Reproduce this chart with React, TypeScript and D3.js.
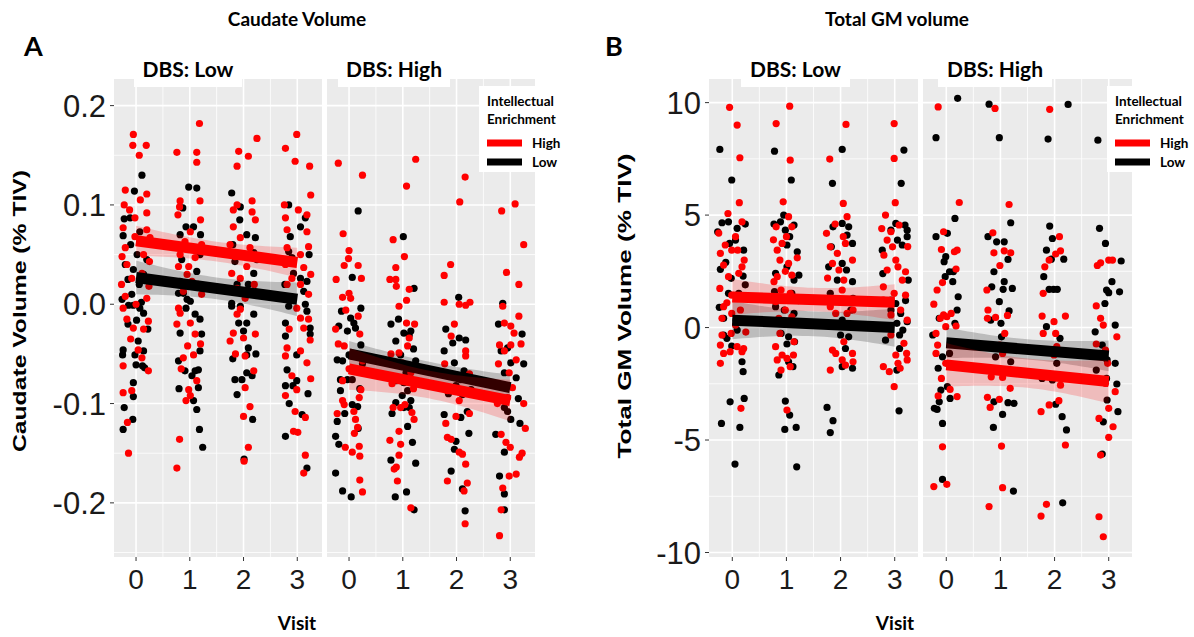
import React from 'react';
import * as d3 from 'd3';

type Pt = [number, number];

const visits = [0, 1, 2, 3];
const caudateTicks = [-0.2, -0.1, 0, 0.1, 0.2];
const caudateTickLabels = ['-0.2', '-0.1', '0.0', '0.1', '0.2'];
const caudateMinor = [-0.25, -0.15, -0.05, 0.05, 0.15];
const gmTicks = [-10, -5, 0, 5, 10];
const gmTickLabels = ['-10', '-5', '0', '5', '10'];
const gmMinor = [-7.5, -2.5, 2.5, 7.5];
const xMinor = [0.5, 1.5, 2.5];
const dbsLevels = ['Low', 'High'];
const ieLevels = ['High', 'Low'];

// ---- Caudate volume, DBS Low ----
const caudateLowRed: Pt[] = [
  [-0.05,0.171],[-0.06,0.160],[0.19,0.160],[0.06,0.150],[-0.2,0.115],[0.2,0.111],[-0.22,0.100],[0.2,0.092],[-0.02,0.087],[-0.24,0.077],[-0.2,0.057],[0.14,0.050],[0.26,0.067],[-0.17,0.040],[0.25,0.043],[-0.27,0.020],[-0.08,0.026],[0.11,0.031],[-0.2,0.008],[0.2,0.006],
  [-0.12,0.095],[0.08,0.105],[-0.02,0.068],[0.2,0.075],[-0.26,0.048],[0.24,0.018],[0.0,0.0],[-0.1,-0.035],
  [-0.24,-0.004],[-0.17,-0.015],[-0.05,-0.024],[0.14,-0.025],[0.23,-0.017],[0.04,-0.046],[0.11,-0.054],[-0.24,-0.062],[0.23,-0.067],[-0.24,-0.089],[-0.08,-0.087],[-0.16,-0.119],[-0.14,-0.150],
  [0.76,0.153],[1.18,0.182],[1.13,0.153],[1.13,0.143],[0.82,0.104],[1.19,0.104],[0.81,0.098],[1.01,0.073],[1.22,0.060],[0.82,0.050],[0.79,0.038],[0.98,0.038],[1.04,0.023],[1.22,0.010],[0.91,0.063],[1.1,0.047],[0.88,0.013],
  [0.78,0.090],[1.2,0.085],[0.95,0.030],[1.16,0.020],[0.84,-0.065],[1.2,-0.040],
  [0.79,-0.004],[0.82,-0.009],[0.76,-0.020],[1.01,-0.019],[1.1,-0.030],[0.96,-0.042],[1.07,-0.051],[0.88,-0.054],[1.13,-0.077],[0.98,-0.086],[1.01,-0.092],[0.93,-0.097],[0.81,-0.136],[0.76,-0.165],
  [1.91,0.154],[2.09,0.149],[2.25,0.167],[1.88,0.139],[1.88,0.100],[2.16,0.104],[2.16,0.093],[1.81,0.095],[1.81,0.078],[1.94,0.067],[2.12,0.057],[1.84,0.048],[2.0,0.050],[2.06,0.038],[1.78,0.031],[1.94,0.026],[1.88,0.016],[2.03,0.006],
  [2.22,0.085],[1.75,0.060],[2.2,0.020],[1.85,-0.050],[2.22,-0.030],
  [1.88,-0.010],[1.81,-0.029],[1.75,-0.037],[2.0,-0.034],[2.03,-0.052],[2.19,-0.067],[2.03,-0.084],[2.12,-0.103],[2.0,-0.113],[2.09,-0.144],[2.01,-0.158],[1.94,-0.005],
  [2.78,0.157],[2.99,0.171],[2.96,0.144],[3.23,0.139],[3.02,0.095],[3.18,0.090],[2.78,0.087],[2.81,0.075],[3.18,0.073],[2.81,0.057],[3.21,0.058],[3.06,0.050],[2.78,0.040],[3.12,0.037],[2.9,0.026],[2.81,0.020],[3.06,0.020],[3.21,0.010],[2.87,0.006],
  [3.25,0.110],[2.76,0.100],[3.25,0.030],[2.85,-0.025],[3.25,-0.075],
  [3.06,-0.014],[3.21,-0.015],[3.24,-0.036],[2.81,-0.044],[3.06,-0.047],[2.78,-0.052],[3.18,-0.059],[2.9,-0.072],[2.99,-0.086],[2.78,-0.092],[2.96,-0.108],[3.15,-0.114],[2.93,-0.128],[3.01,-0.129],[3.15,-0.152],[3.12,-0.170],[2.99,-0.004],[3.12,-0.024],
];
const caudateLowBlack: Pt[] = [
  [0.11,0.130],[-0.03,0.114],[-0.22,0.086],[-0.11,0.087],[-0.24,0.069],[0.07,0.073],[0.12,0.063],[-0.1,0.060],[-0.2,0.040],[-0.05,0.035],[0.14,0.030],[0.06,0.020],[-0.08,0.010],[0.1,0.002],
  [0.2,0.045],[-0.15,0.025],[0.02,0.050],[-0.26,0.005],[0.22,-0.025],[-0.15,-0.020],
  [-0.14,-0.001],[-0.05,-0.001],[0.07,-0.004],[0.14,-0.009],[0.01,-0.016],[0.04,-0.037],[0.14,-0.047],[-0.24,-0.046],[-0.25,-0.051],[-0.02,-0.051],[0.0,-0.061],[0.12,-0.062],[0.16,-0.064],[-0.05,-0.079],[-0.05,-0.093],[-0.22,-0.104],[-0.06,-0.116],[-0.24,-0.126],
  [0.98,0.118],[1.13,0.117],[0.87,0.097],[1.07,0.078],[0.93,0.078],[0.82,0.070],[1.01,0.057],[1.19,0.050],[1.13,0.033],[0.82,0.023],[0.79,0.011],[0.88,0.011],[1.01,0.003],
  [0.85,0.045],[1.2,0.070],[0.95,0.005],[1.22,-0.030],[0.8,-0.085],
  [0.93,-0.004],[1.1,-0.010],[1.19,-0.015],[0.82,-0.029],[1.19,-0.047],[0.79,-0.057],[0.91,-0.067],[1.1,-0.067],[1.04,-0.072],[1.16,-0.066],[1.16,-0.084],[1.07,-0.097],[1.13,-0.106],[1.18,-0.126],[1.24,-0.144],
  [1.78,0.112],[1.94,0.098],[1.93,0.085],[2.06,0.070],[2.22,0.067],[2.19,0.052],[1.84,0.043],[2.19,0.031],[2.09,0.020],[1.78,0.001],
  [1.8,0.060],[2.25,0.045],[1.88,0.020],[2.23,-0.050],[1.8,-0.055],
  [1.78,-0.002],[1.94,-0.002],[1.91,-0.019],[2.06,-0.019],[2.19,-0.010],[2.0,-0.027],[2.09,-0.044],[2.06,-0.051],[2.06,-0.069],[2.16,-0.072],[1.84,-0.076],[1.97,-0.076],[1.88,-0.091],[2.17,-0.116],[2.01,-0.156],
  [2.84,0.100],[3.15,0.087],[3.06,0.078],[2.87,0.068],[2.84,0.053],[2.9,0.047],[2.93,0.031],[3.06,0.026],[3.18,0.023],[3.12,0.013],
  [3.22,0.050],[2.77,0.020],[3.2,-0.090],[2.85,-0.100],
  [2.84,-0.002],[3.15,0.0],[3.18,-0.007],[2.78,-0.019],[2.78,-0.032],[3.24,-0.024],[3.24,-0.030],[2.99,-0.051],[2.81,-0.066],[2.99,-0.077],[2.78,-0.082],[2.92,-0.082],[3.09,-0.111],[2.78,-0.133],[3.18,-0.165],
];

// ---- Caudate volume, DBS High ----
const caudateHighRed: Pt[] = [
  [-0.2,0.142],[0.25,0.130],[-0.11,0.071],[0.0,0.054],[-0.01,0.046],[-0.09,0.039],[0.17,0.039],[-0.24,0.025],[0.23,0.026],[0.0,0.011],[-0.12,0.007],[0.03,0.006],
  [-0.2,-0.040],[0.0,-0.065],[0.2,-0.030],[-0.22,-0.110],[0.1,-0.130],
  [-0.25,-0.025],[-0.09,-0.042],[0.17,-0.012],[0.25,-0.057],[0.25,-0.069],[-0.12,-0.077],[-0.12,-0.097],[-0.09,-0.101],[0.22,-0.086],[0.19,-0.094],[0.09,-0.108],[0.12,-0.116],[0.16,-0.124],[-0.07,-0.144],[0.06,-0.149],[0.19,-0.143],[0.2,-0.153],[0.2,-0.177],[0.25,-0.189],[-0.06,-0.006],
  [1.24,0.146],[1.07,0.119],[0.82,0.065],[1.03,0.048],[0.87,0.037],[0.76,0.025],[0.87,0.025],[0.88,0.018],[1.12,0.015],[1.07,0.004],
  [0.8,-0.080],[1.2,-0.085],[0.78,-0.050],[1.22,-0.020],
  [0.93,-0.002],[1.07,-0.019],[1.12,-0.034],[0.93,-0.049],[1.09,-0.042],[0.99,-0.059],[1.15,-0.069],[0.82,-0.104],[0.96,-0.104],[1.04,-0.101],[1.17,-0.109],[1.21,-0.116],[0.93,-0.128],[0.76,-0.137],[0.96,-0.141],[0.93,-0.152],[0.88,-0.164],[0.84,-0.166],[0.9,-0.178],[1.15,-0.205],
  [2.16,0.128],[2.06,0.103],[1.89,0.040],[1.77,0.029],[1.77,0.002],[2.25,0.002],
  [1.78,-0.060],[2.24,-0.110],[1.8,-0.120],[2.24,-0.070],
  [2.05,0.000],[2.17,-0.001],[1.96,-0.020],[1.9,-0.032],[2.17,-0.047],[2.17,-0.052],[1.83,-0.087],[2.05,-0.097],[1.99,-0.113],[1.83,-0.134],[1.9,-0.136],[2.05,-0.149],[2.11,-0.151],[2.17,-0.161],[2.2,-0.180],[1.83,-0.178],[2.14,-0.188],[2.16,-0.221],
  [2.84,0.094],[3.09,0.101],[2.93,0.032],[3.16,0.020],[3.25,0.060],
  [2.78,-0.060],[3.2,-0.040],[2.76,-0.100],
  [2.86,-0.002],[2.89,-0.019],[3.01,-0.022],[3.07,-0.029],[3.01,-0.041],[2.8,-0.041],[2.89,-0.047],[3.11,-0.056],[2.98,-0.069],[3.04,-0.084],[2.95,-0.094],[2.83,-0.131],[2.92,-0.139],[3.0,-0.144],[3.17,-0.154],[3.11,-0.171],[2.98,-0.173],[2.86,-0.185],[2.83,-0.207],[2.8,-0.233],[3.16,-0.012],[3.25,-0.100],[3.22,-0.150],[3.28,-0.125],
];
const caudateHighBlack: Pt[] = [
  [0.17,0.094],[0.06,0.027],[-0.14,-0.007],[0.03,-0.014],[0.22,-0.004],[-0.19,-0.022],[0.09,-0.019],[0.12,-0.024],[-0.03,-0.027],[-0.22,-0.056],[-0.12,-0.057],[0.0,-0.051],[0.22,-0.041],[0.06,-0.052],[-0.16,-0.076],[-0.03,-0.076],[0.06,-0.076],[-0.16,-0.087],[0.06,-0.101],[0.16,-0.103],[-0.22,-0.118],[0.17,-0.125],[-0.25,-0.133],[-0.19,-0.141],[-0.25,-0.170],[-0.12,-0.188],[0.04,-0.194],
  [0.25,-0.060],[-0.08,-0.110],[0.2,-0.085],
  [1.01,0.068],[1.21,0.016],[0.78,-0.020],[0.87,-0.037],[1.02,-0.029],[1.12,-0.031],[1.15,-0.027],[0.96,-0.051],[1.06,-0.064],[1.06,-0.069],[1.24,-0.057],[0.87,-0.077],[1.02,-0.079],[1.09,-0.087],[0.99,-0.092],[1.15,-0.097],[1.02,-0.104],[1.12,-0.104],[0.87,-0.099],[1.09,-0.123],[1.18,-0.139],[0.78,-0.157],[1.24,-0.160],[1.07,-0.189],[0.86,-0.194],[1.21,-0.207],
  [0.8,-0.110],[1.2,-0.045],[0.92,-0.015],
  [2.04,0.007],[1.77,-0.047],[1.93,-0.039],[2.05,-0.034],[2.17,-0.036],[1.96,-0.059],[2.14,-0.067],[1.9,-0.071],[2.08,-0.076],[1.99,-0.082],[2.11,-0.091],[2.27,-0.086],[1.77,-0.111],[2.2,-0.108],[2.08,-0.114],[1.99,-0.138],[1.96,-0.146],[1.9,-0.168],[2.11,-0.186],[2.16,-0.208],
  [1.8,-0.025],[2.23,-0.130],[1.85,-0.090],
  [2.86,0.001],[2.95,-0.044],[2.83,-0.047],[3.01,-0.059],[2.89,-0.069],[2.83,-0.081],[2.89,-0.104],[2.95,-0.108],[3.01,-0.116],[2.73,-0.131],[2.89,-0.149],[2.8,-0.173],[2.89,-0.191],[2.89,-0.207],[3.11,-0.074],[3.22,-0.030],[3.25,-0.060],
  [3.18,-0.120],[2.78,-0.020],[3.15,-0.095],
];

// ---- Total GM volume, DBS Low ----
const gmLowRed: Pt[] = [
  [-0.05,9.79],[0.09,9.0],[0.14,7.55],[0.13,5.55],[-0.08,5.07],[0.18,4.7],[-0.22,3.3],[-0.13,3.67],[-0.01,3.44],[0.06,4.04],[0.1,3.44],[-0.16,2.78],[0.18,2.7],[-0.07,2.26],[0.12,2.41],[-0.23,1.74],[-0.01,1.44],[0.21,1.37],[-0.16,0.93],[0.15,0.78],[-0.19,0.41],[-0.01,0.63],[0.21,0.33],[0.06,0.11],
  [-0.25,4.2],[0.22,3.0],[-0.1,1.1],[0.25,-0.2],
  [-0.22,-1.59],[-0.16,-1.15],[-0.04,-1.07],[0.18,-1.07],[0.09,-0.85],[0.21,-0.93],[-0.19,-0.33],[0.16,-3.59],[-0.02,-0.26],[-0.22,-0.78],
  [1.06,9.84],[0.81,9.07],[1.07,7.44],[0.94,5.59],[1.04,4.93],[0.81,4.48],[1.1,4.48],[0.83,3.44],[0.92,3.74],[1.0,4.04],[0.88,3.0],[1.04,2.85],[0.83,2.26],[1.1,2.33],[0.77,2.04],[0.9,1.67],[1.07,1.52],[0.8,1.15],[0.98,0.78],[0.86,0.41],[1.1,0.48],
  [0.76,3.9],[1.2,3.1],[0.98,2.5],
  [0.8,-0.85],[0.92,-1.22],[0.83,-1.44],[1.01,-1.37],[1.13,-1.22],[1.07,-1.74],[0.9,-1.89],[1.01,-3.67],[1.14,-0.63],[0.88,-0.26],
  [2.1,9.03],[1.8,7.49],[2.05,5.52],[2.12,4.93],[1.74,4.19],[1.81,3.59],[1.94,3.3],[1.85,2.85],[2.05,4.04],[2.09,3.74],[1.97,2.56],[2.06,2.11],[2.03,1.67],[1.81,0.93],[1.91,0.63],[2.12,0.63],[2.23,0.78],[2.0,0.11],
  [1.76,2.2],[2.22,3.0],[1.9,4.6],
  [1.85,-1.0],[1.91,-1.15],[2.03,-1.44],[2.22,-1.15],[2.06,-0.63],[2.09,-1.67],[1.81,-1.89],[2.23,-1.52],
  [2.99,9.07],[2.99,7.52],[3.01,5.55],[2.83,5.0],[2.93,4.26],[3.08,4.56],[2.86,3.89],[2.96,3.59],[2.8,3.22],[3.02,3.0],[3.06,2.7],[2.86,2.56],[3.2,2.48],[3.14,2.11],[2.79,1.81],[2.99,1.52],[3.2,1.44],[2.79,1.22],[3.11,0.78],[2.93,0.56],[3.23,0.33],
  [2.76,4.4],[3.24,3.6],
  [2.79,-1.74],[2.9,-1.96],[2.99,-2.63],[3.02,-1.22],[3.06,-1.59],[3.1,-1.81],[3.17,-0.7],[3.22,-1.15],[3.23,-1.44],[2.93,-0.33],
];
const gmLowBlack: Pt[] = [
  [-0.23,7.92],[-0.01,6.56],[-0.27,4.26],[-0.19,4.66],[-0.07,4.7],[0.09,4.41],[0.24,4.6],[-0.05,3.74],[0.06,3.89],[0.21,3.44],[-0.22,2.59],[-0.02,2.19],[0.2,2.29],[-0.07,1.52],[0.12,1.52],[-0.16,0.41],[0.07,0.33],
  [-0.12,2.9],[0.24,1.9],[-0.24,0.9],
  [-0.16,-0.33],[0.09,-0.11],[-0.01,-0.82],[0.18,-1.52],[0.2,-1.96],[-0.04,-3.3],[0.22,-3.15],[-0.2,-4.26],[0.14,-4.44],[0.05,-6.07],[-0.1,-0.48],
  [0.78,7.84],[1.09,6.56],[0.77,4.6],[0.89,4.7],[0.98,4.33],[1.14,4.56],[0.95,5.0],[1.06,4.04],[1.01,3.67],[1.2,3.37],[0.8,2.41],[1.01,2.7],[1.14,2.11],[1.23,2.33],[1.1,1.52],[0.8,0.93],[0.96,0.78],[1.14,0.63],[1.04,0.19],
  [0.78,1.6],[1.22,1.2],
  [1.04,-0.41],[1.01,-0.73],[1.15,-0.63],[1.04,-1.52],[1.12,-1.74],[0.86,-2.11],[0.98,-3.27],[1.06,-3.89],[0.97,-4.53],[1.18,-4.44],[1.19,-6.19],[0.9,-0.26],
  [2.03,7.92],[1.85,6.41],[1.86,4.48],[2.03,4.63],[2.15,4.48],[2.12,4.11],[2.22,3.74],[1.83,3.59],[2.03,2.85],[2.11,2.56],[1.94,2.11],[2.22,2.04],[1.81,1.52],[1.88,1.22],[2.19,0.78],[2.03,0.33],
  [2.23,1.3],[1.78,2.7],
  [2.0,-0.33],[2.15,-0.41],[2.09,-0.93],[2.03,-1.74],[2.22,-1.81],[1.75,-3.55],[1.86,-4.14],[1.81,-4.67],
  [3.17,7.89],[3.12,6.41],[3.02,4.63],[3.19,4.56],[3.23,4.33],[2.93,4.33],[3.05,3.89],[3.14,3.67],[3.23,4.04],[2.77,3.44],[3.25,2.11],[2.93,1.22],[3.02,1.07],[3.11,0.63],[2.93,0.78],[3.04,0.19],[3.23,0.26],
  [2.78,2.4],[3.2,1.2],
  [3.09,-0.33],[3.15,-0.11],[3.09,-0.93],[2.83,-0.56],[3.04,-1.89],[3.08,-3.7],
];

// ---- Total GM volume, DBS High ----
const gmHighRed: Pt[] = [
  [-0.15,9.81],[0.24,5.56],[-0.05,4.26],[-0.09,3.47],[0.15,3.37],[0.2,3.44],[0.18,2.6],[-0.07,2.0],[-0.17,1.67],[-0.23,1.04],[-0.05,0.56],[0.01,0.48],[-0.01,0.04],[0.18,0.07],[0.09,0.63],[-0.11,0.41],
  [-0.19,-0.26],[-0.16,-0.78],[-0.19,-1.15],[-0.01,-1.59],[0.09,-1.74],[0.21,-1.74],[-0.09,-2.26],[-0.15,-3.04],[0.2,-3.07],[0.07,-2.75],[-0.07,-5.3],[-0.23,-7.07],[0.01,-6.97],
  [0.9,9.74],[1.16,5.47],[0.86,4.21],[0.88,3.32],[0.99,2.76],[1.07,3.41],[1.19,3.32],[0.75,1.67],[0.77,0.78],[0.76,0.41],[0.91,0.45],[1.13,0.54],
  [0.99,-0.78],[1.04,-1.15],[0.83,-2.19],[1.04,-2.22],[1.18,-2.7],[0.76,-3.1],[0.81,-3.55],[0.98,-3.19],[1.02,-5.27],[1.04,-7.12],[0.79,-7.96],[1.08,-0.26],
  [1.91,9.7],[2.09,4.04],[2.11,3.41],[2.02,3.27],[1.9,3.0],[1.82,2.7],[1.79,1.52],[1.77,0.51],[1.99,0.26],[2.2,0.51],
  [1.79,-0.26],[2.02,-0.26],[1.85,-1.07],[2.04,-0.85],[1.99,-1.22],[2.11,-2.56],[1.75,-3.74],[1.9,-3.44],[2.08,-3.25],[2.2,-5.22],[1.85,-7.86],[1.75,-8.38],
  [2.79,2.76],[2.85,2.88],[3.0,3.0],[3.07,3.0],[2.77,0.96],[2.85,0.41],[2.9,0.11],
  [2.77,-0.73],[2.85,-1.15],[2.94,-1.0],[2.98,-1.59],[2.94,-2.48],[2.82,-4.04],[3.08,-4.41],[3.0,-4.88],[2.85,-5.67],[2.82,-8.41],[2.9,-9.3],[3.12,-2.85],[3.15,-0.41],[3.0,-3.59],
];
const gmHighBlack: Pt[] = [
  [0.21,10.19],[-0.19,8.44],[0.16,4.85],[-0.19,4.04],[0.02,4.19],[-0.01,3.15],[-0.04,2.93],[0.06,2.48],[0.13,2.48],[-0.02,2.26],[0.12,2.04],[0.22,1.37],[-0.13,0.41],[0.2,0.78],[0.16,0.19],
  [-0.25,-0.33],[0.06,-1.15],[-0.07,-1.3],[-0.15,-1.81],[0.02,-2.63],[-0.1,-2.78],[0.07,-3.15],[-0.13,-3.3],[-0.22,-3.59],[-0.17,-3.64],[-0.07,-4.26],[-0.07,-6.75],[0.09,-0.63],
  [0.79,9.93],[0.98,8.44],[1.19,4.66],[0.77,4.04],[0.93,3.81],[1.07,3.81],[1.14,3.03],[0.88,2.48],[1.07,2.04],[1.22,1.74],[0.84,1.81],[1.05,1.7],[0.98,1.15],[1.16,0.74],[0.82,0.33],[1.01,0.19],
  [1.02,-0.41],[0.91,-1.3],[1.02,-1.92],[1.19,-1.52],[1.14,-3.34],[1.25,-3.37],[0.88,-3.3],[1.04,-3.86],[0.87,-4.44],[1.24,-7.27],
  [2.25,9.92],[1.88,8.38],[1.91,4.51],[1.96,3.96],[1.85,3.44],[2.17,3.04],[1.94,3.04],[1.8,2.26],[1.9,1.7],[2.05,1.7],[1.98,1.7],[1.85,0.04],
  [1.99,-1.0],[2.04,-1.59],[1.96,-2.33],[1.77,-2.26],[2.02,-3.41],[2.14,-3.96],[2.22,-4.55],[2.15,-7.79],[2.1,-0.48],
  [2.8,8.33],[2.83,4.41],[2.94,3.74],[3.23,2.96],[3.06,2.04],[2.96,1.67],[3.0,1.55],[3.2,1.59],[2.93,1.07],[3.12,0.11],
  [2.75,-0.19],[2.88,-0.78],[2.97,-1.44],[3.12,-1.59],[2.77,-1.89],[2.96,-2.26],[3.15,-2.51],[2.97,-3.22],[3.17,-3.74],[2.9,-4.19],[2.88,-5.62],
];

// Fitted linear trends (value at visit 0, value at visit 3, CI half-width at ends and middle)
const caudateFits = [
  { dbs: 'Low', ie: 'Low', at0: 0.027, at3: 0.005, ciEnd: 0.017, ciMid: 0.011 },
  { dbs: 'Low', ie: 'High', at0: 0.064, at3: 0.042, ciEnd: 0.015, ciMid: 0.010 },
  { dbs: 'High', ie: 'Low', at0: -0.050, at3: -0.084, ciEnd: 0.013, ciMid: 0.009 },
  { dbs: 'High', ie: 'High', at0: -0.065, at3: -0.097, ciEnd: 0.021, ciMid: 0.014 },
];
const gmFits = [
  { dbs: 'Low', ie: 'Low', at0: 0.33, at3: 0.0, ciEnd: 0.85, ciMid: 0.55 },
  { dbs: 'Low', ie: 'High', at0: 1.36, at3: 1.13, ciEnd: 0.8, ciMid: 0.52 },
  { dbs: 'High', ie: 'Low', at0: -0.68, at3: -1.26, ciEnd: 0.68, ciMid: 0.45 },
  { dbs: 'High', ie: 'High', at0: -1.66, at3: -2.4, ciEnd: 0.97, ciMid: 0.65 },
];

const RED = '#ff0000';
const BLACK = '#000000';
const PANEL_BG = '#ebebeb';
const TITLE_FONT = 'Lato, "Open Sans", sans-serif';
const AXIS_FONT = '"Liberation Sans", Arial, sans-serif';

type Fit = { dbs: string; ie: string; at0: number; at3: number; ciEnd: number; ciMid: number };

interface ChartProps {
  title: string;
  titleX: number;
  letter: string;
  letterX: number;
  yTitle: string;
  yTitleX: number;
  yTitleY: number;
  yTitleLen: number;
  yTicks: number[];
  yTickLabels: string[];
  yMinor: number[];
  yDomain: [number, number];
  xDomain: [number, number];
  facetLefts: number[];
  facetWidth: number;
  points: Record<string, { red: Pt[]; black: Pt[] }>;
  fits: Fit[];
  stripBoxes: [number, number][];
  legendX: number;
  legendRight: number;
  keyLen: number;
  visitX: number;
  idp: string;
}

const TOP = 79;
const BOTTOM = 557;

function Chart(p: ChartProps) {
  const y = d3.scaleLinear().domain(p.yDomain).range([BOTTOM, TOP]);
  const left0 = p.facetLefts[0];
  return (
    <g>
      <text x={p.titleX} y={26} textAnchor="middle" fontFamily={TITLE_FONT} fontWeight="bold" fontSize={19}>{p.title}</text>
      <text x={p.letterX} y={56} fontFamily={TITLE_FONT} fontWeight="bold" fontSize={27}>{p.letter}</text>
      <text transform={`translate(${p.yTitleX},${p.yTitleY}) rotate(-90)`} textAnchor="middle" fontFamily={AXIS_FONT}
        fontWeight="bold" fontSize={18} textLength={p.yTitleLen} lengthAdjust="spacingAndGlyphs">{p.yTitle}</text>
      {p.yTicks.map((t, i) => (
        <g key={'yt' + i}>
          <line x1={left0 - 4} x2={left0} y1={y(t)} y2={y(t)} stroke="#333" strokeWidth={1} />
          <text x={left0 - 8} y={y(t)} dy="0.36em" textAnchor="end" fontFamily={AXIS_FONT} fontSize={31} fill="#1a1a1a">{p.yTickLabels[i]}</text>
        </g>
      ))}
      {dbsLevels.map((dbs, fi) => {
        const L = p.facetLefts[fi];
        const x = d3.scaleLinear().domain(p.xDomain).range([L, L + p.facetWidth]);
        const pts = p.points[dbs];
        const clipId = `${p.idp}-clip-${fi}`;
        const facetFits = p.fits.filter((f) => f.dbs === dbs);
        const ordered = ['Low', 'High'].map((ie) => facetFits.find((f) => f.ie === ie)!);
        const xs = d3.range(0, 3.0001, 0.1);
        return (
          <g key={dbs}>
            <defs>
              <clipPath id={clipId}><rect x={L} y={TOP} width={p.facetWidth} height={BOTTOM - TOP} /></clipPath>
            </defs>
            <rect x={L} y={TOP} width={p.facetWidth} height={BOTTOM - TOP} fill={PANEL_BG} />
            <g clipPath={`url(#${clipId})`}>
              {p.yMinor.map((t) => (
                <line key={'ym' + t} x1={L} x2={L + p.facetWidth} y1={y(t)} y2={y(t)} stroke="#fff" strokeWidth={0.8} />
              ))}
              {xMinor.map((t) => (
                <line key={'xm' + t} x1={x(t)} x2={x(t)} y1={TOP} y2={BOTTOM} stroke="#fff" strokeWidth={0.8} />
              ))}
              {p.yTicks.map((t) => (
                <line key={'yM' + t} x1={L} x2={L + p.facetWidth} y1={y(t)} y2={y(t)} stroke="#fff" strokeWidth={1.6} />
              ))}
              {visits.map((t) => (
                <line key={'xM' + t} x1={x(t)} x2={x(t)} y1={TOP} y2={BOTTOM} stroke="#fff" strokeWidth={1.6} />
              ))}
              {pts.black.map((d, i) => (
                <circle key={'b' + i} cx={x(d[0])} cy={y(d[1])} r={3.6} fill={BLACK} />
              ))}
              {pts.red.map((d, i) => (
                <circle key={'r' + i} cx={x(d[0])} cy={y(d[1])} r={3.6} fill={RED} />
              ))}
              {ordered.map((f) => {
                const fit = (v: number) => f.at0 + ((f.at3 - f.at0) * v) / 3;
                const ci = (v: number) => Math.sqrt(f.ciMid * f.ciMid + (f.ciEnd * f.ciEnd - f.ciMid * f.ciMid) * ((v - 1.5) / 1.5) ** 2);
                const area = d3.area<number>().x((v) => x(v)).y0((v) => y(fit(v) - ci(v))).y1((v) => y(fit(v) + ci(v)));
                const line = d3.line<number>().x((v) => x(v)).y((v) => y(fit(v)));
                const col = f.ie === 'High' ? RED : BLACK;
                return (
                  <g key={f.ie}>
                    <path d={area(xs) || ''} fill={col} fillOpacity={0.2} />
                    <path d={line([0, 3]) || ''} stroke={col} strokeWidth={11} fill="none" />
                  </g>
                );
              })}
            </g>
            {visits.map((t) => (
              <g key={'xt' + t}>
                <line x1={x(t)} x2={x(t)} y1={BOTTOM} y2={BOTTOM + 4} stroke="#333" strokeWidth={1} />
                <text x={x(t)} y={BOTTOM + 32} textAnchor="middle" fontFamily={AXIS_FONT} fontSize={28} fill="#1a1a1a">{t}</text>
              </g>
            ))}
          </g>
        );
      })}
      {p.stripBoxes.map((b, i) => (
        <g key={'s' + i}>
          <rect x={b[0]} y={50} width={b[1] - b[0]} height={37} fill="#fff" />
          <text x={(b[0] + b[1]) / 2} y={77} textAnchor="middle" fontFamily={TITLE_FONT} fontWeight="bold" fontSize={21}>{`DBS: ${dbsLevels[i]}`}</text>
        </g>
      ))}
      <text x={p.visitX} y={630} textAnchor="middle" fontFamily={TITLE_FONT} fontWeight="bold" fontSize={19}>Visit</text>
      <g>
        <rect x={p.legendX - 8} y={86} width={p.legendRight - p.legendX + 8} height={86} fill="#fff" />
        <text x={p.legendX} y={106} fontFamily={TITLE_FONT} fontWeight="bold" fontSize={13.5}>Intellectual</text>
        <text x={p.legendX} y={124} fontFamily={TITLE_FONT} fontWeight="bold" fontSize={13.5}>Enrichment</text>
        {ieLevels.map((ie, i) => (
          <g key={ie}>
            <line x1={p.legendX} x2={p.legendX + p.keyLen} y1={143 + i * 19} y2={143 + i * 19} stroke={ie === 'High' ? RED : BLACK} strokeWidth={7} />
            <text x={p.legendX + p.keyLen + 10} y={148 + i * 19} fontFamily={TITLE_FONT} fontWeight="bold" fontSize={13.5}>{ie}</text>
          </g>
        ))}
      </g>
    </g>
  );
}

export default function App() {
  return (
    <svg width={1194} height={637} style={{ position: 'absolute', left: 0, top: 0, background: '#fff' }}>
      <rect x={0} y={0} width={1194} height={637} fill="#fff" />
      <Chart
        idp="a"
        title="Caudate Volume"
        titleX={297}
        letter="A"
        letterX={24}
        yTitle="Caudate Volume (% TIV)"
        yTitleX={26}
        yTitleY={311}
        yTitleLen={282}
        yTicks={caudateTicks}
        yTickLabels={caudateTickLabels}
        yMinor={caudateMinor}
        yDomain={[-0.2545, 0.2268]}
        xDomain={[-0.41, 3.46]}
        facetLefts={[114, 327]}
        facetWidth={208}
        points={{ Low: { red: caudateLowRed, black: caudateLowBlack }, High: { red: caudateHighRed, black: caudateHighBlack } }}
        fits={caudateFits}
        stripBoxes={[[134, 242], [338, 450]]}
        legendX={487}
        legendRight={566}
        keyLen={35}
        visitX={297}
      />
      <Chart
        idp="b"
        title="Total GM volume"
        titleX={897}
        letter="B"
        letterX={605}
        yTitle="Total GM Volume (% TIV)"
        yTitleX={631}
        yTitleY={306}
        yTitleLen={305}
        yTicks={gmTicks}
        yTickLabels={gmTickLabels}
        yMinor={gmMinor}
        yDomain={[-10.2, 11.05]}
        xDomain={[-0.43, 3.43]}
        facetLefts={[709, 923]}
        facetWidth={209}
        points={{ Low: { red: gmLowRed, black: gmLowBlack }, High: { red: gmHighRed, black: gmHighBlack } }}
        fits={gmFits}
        stripBoxes={[[741, 850], [938, 1052]]}
        legendX={1115}
        legendRight={1194}
        keyLen={35}
        visitX={895}
      />
    </svg>
  );
}
